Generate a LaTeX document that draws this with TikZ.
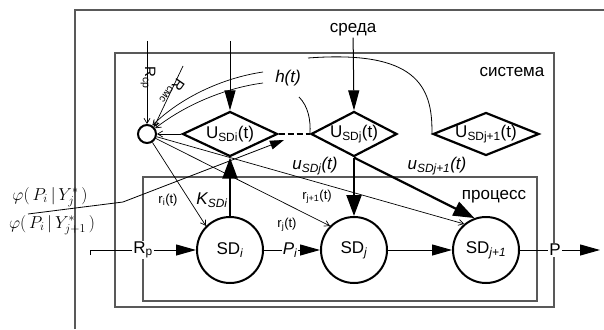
\documentclass[tikz,border=0pt]{standalone}
\usepackage{fontspec}
\setmainfont{Liberation Sans}
\usetikzlibrary{arrows.meta,shapes.geometric}

\begin{document}
\begin{tikzpicture}[x=1pt, y=-1pt,
  frame/.style={draw=black!65, line width=1.1pt},
  ublock/.style={diamond, draw, line width=2.2pt, minimum width=95pt,
    minimum height=45pt, inner sep=0pt},
  sdblock/.style={circle, draw, line width=2pt, minimum size=66pt, inner sep=0pt,
    font=\fontsize{17}{20}\selectfont},
  cmpblock/.style={circle, draw, line width=2pt, minimum size=18pt, inner sep=0pt},
  lbl/.style={font=\fontsize{17}{20}\selectfont, inner sep=1pt},
  ilbl/.style={font=\fontsize{17}{20}\selectfont\itshape, inner sep=1pt},
  slbl/.style={font=\fontsize{13}{15}\selectfont, inner sep=1pt},
  rlbl/.style={font=\fontsize{15}{17}\selectfont, inner sep=0pt},
  flow/.style={-{Triangle[length=20pt,width=11pt]}, line width=1pt},
  ctrl/.style={-{Triangle[length=21pt,width=15pt]}, line width=2.2pt},
  feed/.style={-{Straight Barb[length=5pt,width=6pt]}, line width=0.7pt},
  link/.style={line width=0.8pt}
]
\useasboundingbox (0,0) rectangle (604,329);

% ---------- Frames ----------
\draw[frame] (75,329) -- (75,10) -- (604,10);
\draw[frame] (115,53) rectangle (554,307);
\draw[frame] (143,177) rectangle (537,301);

\node[lbl] (env) at (353,30) {среда};
\node[lbl] (sys) at (512,72) {система};
\node[lbl] (proc) at (494,197) {процесс};

% ---------- Blocks ----------
\node[cmpblock] (cmp) at (147,134) {};
\node[ublock, label={[lbl]center:U\textsubscript{SDi}(t)}] (usdi) at (230,134) {};
\node[ublock, minimum width=86pt, label={[lbl]center:U\textsubscript{SDj}(t)}] (usdj) at (354,134) {};
\node[ublock, minimum width=106pt, minimum height=43pt,
  label={[lbl]center:U\textsubscript{SDj+1}(t)}] (usdjj) at (486,134) {};

\node[sdblock] (sdi) at (230,250) {SD\textsubscript{\itshape i}};
\node[sdblock] (sdj) at (354,250) {SD\textsubscript{\itshape j}};
\node[sdblock] (sdjj) at (486,250) {SD\textsubscript{\itshape j+1}};

% ---------- Main flow ----------
\coordinate (in) at (90,255);
\coordinate (out) at (600,250);
\node[lbl, fill=white] (rp) at (143,250) {R\textsubscript{p}};
\node[ilbl] (pi) at (290,250) {P\textsubscript{i}};
\node[lbl, fill=white] (pout) at (555,250) {P};

\draw[link] (in) -- ++(0,-5) -- (rp.west);
\draw[flow] (rp) -- (sdi);
\draw[link] (sdi) -- (pi);
\draw[flow] (pi) -- (sdj);
\draw[flow] (sdj) -- (sdjj);
\draw[link] (sdjj) -- (pout);
\draw[flow] (pout) -- (out);

% ---------- Environment inputs ----------
\coordinate (utop) at (230,41);
\coordinate (rcp) at (147,41);
\coordinate (rsmc) at (183,66);
\draw[flow] (utop) -- (usdi.north);
\draw[flow] (env) -- (usdj.north);
\draw[feed] (rcp) -- (cmp.north);
\draw[feed] (rsmc) -- (cmp.north east);
\node[rlbl, rotate=-90] (rcplbl) at (148,78) {R\textsubscript{ср}};
\node[rlbl, rotate=-125] (rsmclbl) at (172,92) {R\textsubscript{смс}};

% ---------- h(t) feedback ----------
\node[ilbl] (h) at (288,78) {h(t)};
\coordinate (h1) at (263,72);
\coordinate (h2) at (263,83);
\coordinate (h3) at (299,97);
\coordinate (h4) at (308,58);
\draw[feed] (h1) .. controls (222,78) and (180,98) .. (cmp.58);
\draw[feed] (h2) .. controls (225,88) and (185,105) .. (cmp.35);
\draw[link] (h3) .. controls (308,106) and (311,120) .. (usdj.west);
\draw[link] (h4) .. controls (415,50) and (433,85) .. (usdjj.west);

\draw[feed] (usdi.west) -- (cmp.east);
\draw[line width=2.2pt, dash pattern=on 6pt off 3pt] (usdi.east) -- (usdj.west);

% ---------- Control actions ----------
\draw[ctrl] (sdi.north) -- (usdi.south);
\draw[ctrl] (usdj.south) -- (sdj.north);
\draw[ctrl] (usdj.south) -- (sdjj.110);
\node[ilbl] (ksdi) at (212,200) {K\textsubscript{SDi}};
\node[ilbl] (usdjlbl) at (315,166) {u\textsubscript{SDj}(t)};
\node[ilbl] (usdjjlbl) at (437,166) {u\textsubscript{SDj+1}(t)};

% ---------- Comparator outputs ----------
\draw[feed] (cmp) -- (sdi.north west);
\draw[feed] (cmp) -- (sdj.north west);
\draw[feed] (cmp) -- (sdjj.130);
\node[slbl] (ri) at (168,200) {r\textsubscript{i}(t)};
\node[slbl] (rj) at (287,225) {r\textsubscript{j}(t)};
\node[slbl] (rjj) at (317,197) {r\textsubscript{j+1}(t)};

% ---------- Criteria ----------
\node[lbl] (phij) at (50,197) {$\varphi(\,P_i\,|\,Y_j^{*}\,)$};
\node[lbl] (phijj) at (52,225) {$\varphi(\,P_i\,|\,Y_{j+1}^{*}\,)$};
\coordinate (phistart) at (28,214);
\coordinate (phibend) at (123,202);
\coordinate (phiend) at (284,140);
\draw[-{Triangle[length=14pt,width=9pt]}, link] (phistart) -- (phibend) -- (phiend);

\end{tikzpicture}
\end{document}
